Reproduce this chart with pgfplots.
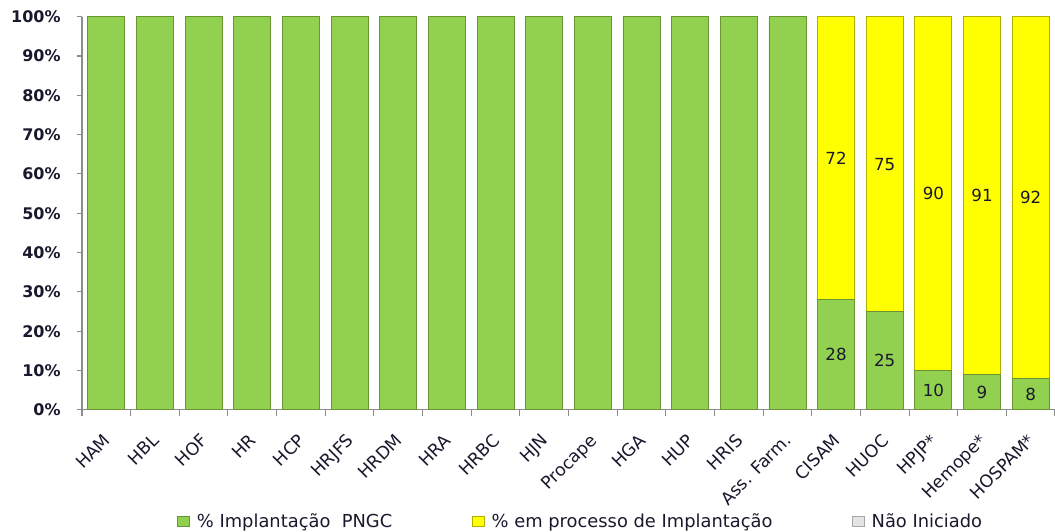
\documentclass[border=0pt]{standalone}
\usepackage{pgfplots}
\usepackage{pgfplotstable}
\pgfplotsset{compat=1.18}
\usepackage{fontspec}
\setmainfont{DejaVu Sans}
\definecolor{grn}{RGB}{146,208,80}
\definecolor{grnd}{RGB}{105,150,50}
\definecolor{yel}{RGB}{255,255,0}
\definecolor{yeld}{RGB}{175,175,0}
\definecolor{gr}{RGB}{228,228,228}
\definecolor{axc}{RGB}{140,140,140}
\definecolor{tk}{RGB}{25,25,45}

\pgfplotstableread{
x g y n
0 100 0 0
1 100 0 0
2 100 0 0
3 100 0 0
4 100 0 0
5 100 0 0
6 100 0 0
7 100 0 0
8 100 0 0
9 100 0 0
10 100 0 0
11 100 0 0
12 100 0 0
13 100 0 0
14 100 0 0
15 28 72 0
16 25 75 0
17 10 90 0
18 9 91 0
19 8 92 0
}\data

\pgfplotstableread{
x y lab
15 14 28
15 64 72
16 12.5 25
16 62.5 75
17 5 10
17 55 90
18 4.5 9
18 54.5 91
19 4 8
19 54 92
}\labs

\begin{document}
\begin{tikzpicture}
\begin{axis}[
  at={(0,0)}, anchor=south west,
  width=730pt, height=295pt, scale only axis,
  ybar stacked, bar width=0.76,
  xmin=-0.5, xmax=19.5, ymin=0, ymax=100,
  axis x line*=bottom, axis y line*=left,
  axis line style={draw=axc, line width=0.8pt},
  tick style={draw=axc, line width=0.8pt},
  tick align=outside,
  xtick={0,...,19},
  xticklabels={HAM,HBL,HOF,HR,HCP,HRJFS,HRDM,HRA,HRBC,HJN,Procape,HGA,HUP,HRIS,Ass. Farm.,CISAM,HUOC,HPJP*,Hemope*,HOSPAM*},
  major x tick style={draw=none},
  minor xtick={-0.5,0.5,...,19.5},
  minor tick length=4.5pt,
  major tick length=3.5pt,
  x tick label style={xshift=-3pt, yshift=-12pt, rotate=45, anchor=north east, font=\fontsize{13}{15}\selectfont, text=tk, inner sep=1pt},
  ytick={0,10,...,100},
  yticklabel={\pgfmathprintnumber{\tick}\%},
  y tick label style={font=\bfseries\fontsize{12}{14}\selectfont, text=tk, xshift=-9pt},
  /pgf/number format/assume math mode=true,
  legend columns=3,
  legend style={at={(0.513,-0.285)}, anchor=center, draw=none, fill=none,
    font=\fontsize{13.4}{15}\selectfont, text=tk,
    /tikz/every odd column/.append style={column sep=3pt},
    /tikz/every even column/.append style={column sep=58pt}},
]
\addplot[fill=grn, draw=grnd, line width=0.6pt,
  legend image code/.code={\draw[fill=grn,draw=grnd] (0pt,-3pt) rectangle (9pt,4pt);}]
  table[x=x,y=g]{\data};
\addplot[fill=yel, draw=yeld, line width=0.6pt,
  legend image code/.code={\draw[fill=yel,draw=yeld] (0pt,-3pt) rectangle (9pt,4pt);}]
  table[x=x,y=y]{\data};
\addplot[fill=gr, draw=none,
  legend image code/.code={\draw[fill=gr,draw=gray!70] (0pt,-3pt) rectangle (9pt,4pt);}]
  table[x=x,y=n]{\data};
\legend{\% Implantação\ \ PNGC, \% em processo de Implantação, Não Iniciado}
\end{axis}
\begin{axis}[
  at={(0,0)}, anchor=south west,
  width=730pt, height=295pt, scale only axis,
  xmin=-0.5, xmax=19.5, ymin=0, ymax=100,
  hide axis,
  /pgf/number format/assume math mode=true,
]
\addplot[draw=none, mark=none,
  nodes near coords, point meta=explicit,
  every node near coord/.append style={anchor=center, font=\fontsize{12.5}{14}\selectfont, text=tk}]
  table[x=x,y=y,meta=lab]{\labs};
\end{axis}
\pgfresetboundingbox
\path (-61.5pt,-91.5pt) rectangle (730pt,307.5pt);
\end{tikzpicture}
\end{document}
